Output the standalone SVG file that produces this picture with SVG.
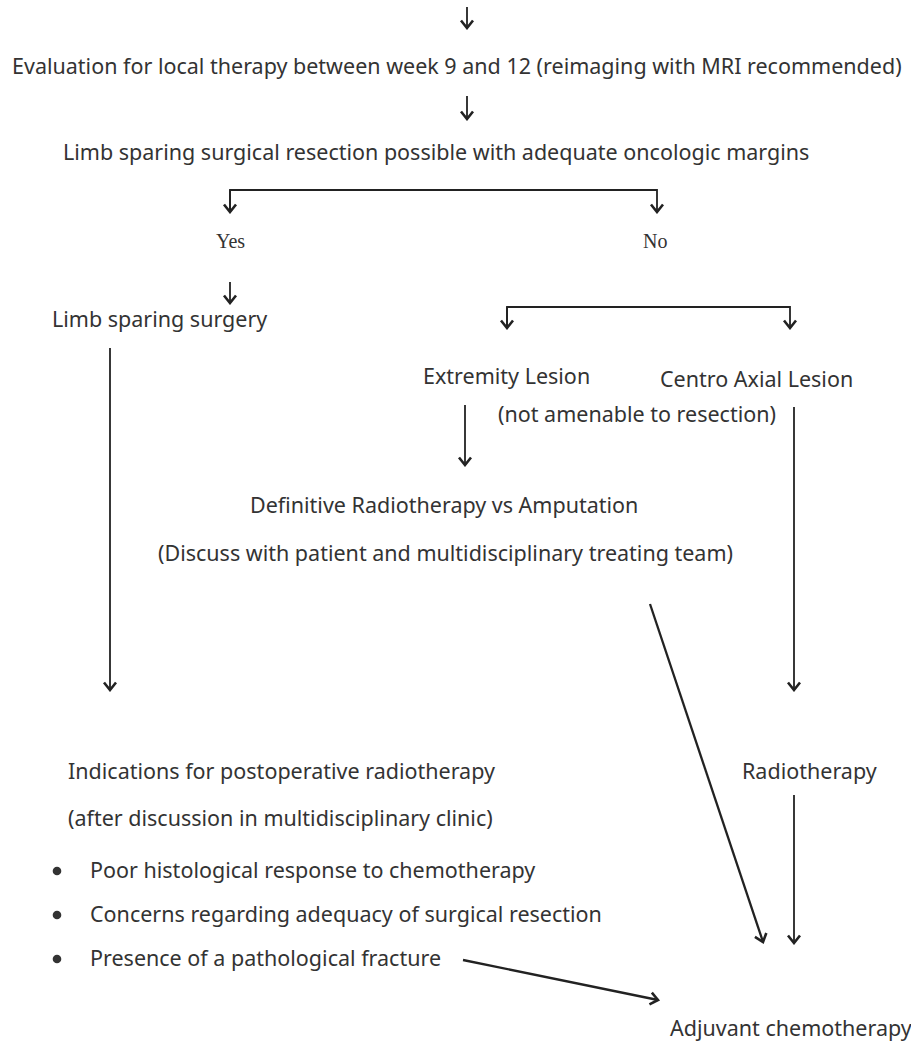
<svg xmlns="http://www.w3.org/2000/svg" width="911" height="1042" viewBox="0 0 911 1042">
<style>
.t{font-family:"Noto Sans","Open Sans","DejaVu Sans",sans-serif;font-size:21.5px;fill:#333}
.s{font-family:"Liberation Serif","Times New Roman",serif;font-size:20px;fill:#333}
.c{fill:none;stroke:#222;stroke-width:1.8}
.d{fill:none;stroke:#222;stroke-width:2.3}
</style>
<defs>
<marker id="ah" viewBox="-10 -8 12 16" refX="0" refY="0" markerWidth="12" markerHeight="16" markerUnits="userSpaceOnUse" orient="auto">
<path d="M-7.5,-6 L0,0 L-7.5,6" fill="none" stroke="#222" stroke-width="2.6" stroke-linejoin="miter"/>
</marker>
</defs>
<rect width="911" height="1042" fill="#fff"/>
<g id="connectors">
<line class="c" x1="467" y1="7" x2="467" y2="28" marker-end="url(#ah)"/>
<line class="c" x1="467" y1="96" x2="467" y2="119" marker-end="url(#ah)"/>
<polyline class="c" points="230,212 230,190 657,190 657,212" marker-end="url(#ah)"/>
<line class="c" x1="230" y1="190" x2="230" y2="212" marker-end="url(#ah)"/>
<line class="c" x1="230" y1="282" x2="230" y2="303" marker-end="url(#ah)"/>
<polyline class="c" points="507,328 507,307 790,307 790,328" marker-end="url(#ah)"/>
<line class="c" x1="507" y1="307" x2="507" y2="328" marker-end="url(#ah)"/>
<line class="c" x1="110" y1="348" x2="110" y2="690" marker-end="url(#ah)"/>
<line class="c" x1="465" y1="405" x2="465" y2="465" marker-end="url(#ah)"/>
<line class="c" x1="794" y1="407" x2="794" y2="690" marker-end="url(#ah)"/>
<line class="d" x1="650" y1="604" x2="763" y2="942" marker-end="url(#ah)"/>
<line class="c" x1="794" y1="795" x2="794" y2="943" marker-end="url(#ah)"/>
<line class="d" x1="463" y1="960" x2="658" y2="1000" marker-end="url(#ah)"/>
</g>
<g id="n-eval"><text class="t" x="12" y="74">Evaluation for local therapy between week 9 and 12 (reimaging with MRI recommended)</text></g>
<g id="n-limb-question"><text class="t" x="63" y="160">Limb sparing surgical resection possible with adequate oncologic margins</text></g>
<g id="n-yes"><text class="s" x="216" y="248">Yes</text></g>
<g id="n-no"><text class="s" x="643" y="248">No</text></g>
<g id="n-limb-surgery"><text class="t" x="52" y="327">Limb sparing surgery</text></g>
<g id="n-extremity"><text class="t" x="423" y="384">Extremity Lesion</text><text class="t" x="498" y="422">(not amenable to resection)</text></g>
<g id="n-centro"><text class="t" x="660" y="387">Centro Axial Lesion</text></g>
<g id="n-definitive"><text class="t" x="250" y="513">Definitive Radiotherapy vs Amputation</text><text class="t" x="158" y="561">(Discuss with patient and multidisciplinary treating team)</text></g>
<g id="n-radiotherapy"><text class="t" x="742" y="779">Radiotherapy</text></g>
<g id="n-indications">
<text class="t" x="68" y="779">Indications for postoperative radiotherapy</text>
<text class="t" x="68" y="826">(after discussion in multidisciplinary clinic)</text>
<circle cx="57" cy="871" r="4.3" fill="#333"/>
<text class="t" x="90" y="878">Poor histological response to chemotherapy</text>
<circle cx="57" cy="915" r="4.3" fill="#333"/>
<text class="t" x="90" y="922">Concerns regarding adequacy of surgical resection</text>
<circle cx="57" cy="959" r="4.3" fill="#333"/>
<text class="t" x="90" y="966">Presence of a pathological fracture</text>
</g>
<g id="n-adjuvant"><text class="t" x="670" y="1036">Adjuvant chemotherapy</text></g>
</svg>
